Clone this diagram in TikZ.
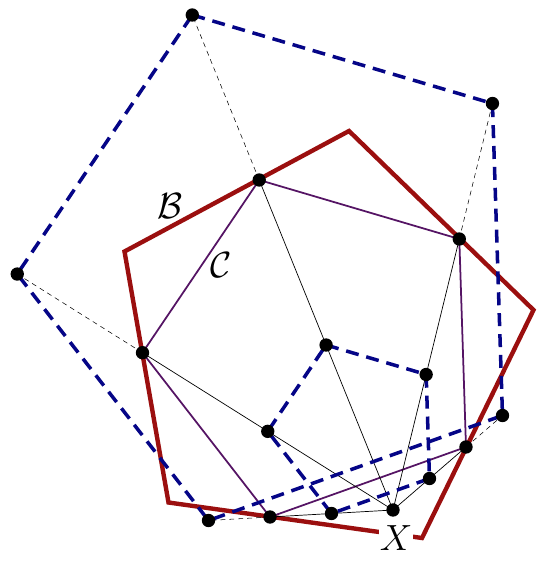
\documentclass[tikz,border=0pt]{standalone}
\usetikzlibrary{calc}
\begin{document}
\begin{tikzpicture}[x=0.02cm,y=-0.02cm]

% Colors
\definecolor{bred}{RGB}{155,15,15}     % pentagon B
\definecolor{cpurple}{RGB}{85,20,100}  % pentagon C
\definecolor{dblue}{RGB}{5,5,135}      % dashed pentagons

\useasboundingbox (0,0) rectangle (544,561);

% === Points ===
\coordinate (X) at (393,510);

\coordinate (B1) at (124.5,251.5);
\coordinate (B2) at (349,131);
\coordinate (B3) at (533.5,310);
\coordinate (B4) at (422,538);
\coordinate (B5) at (168.5,502.5);

\coordinate (C1) at (259.2,180);
\coordinate (C2) at (459.3,239);
\coordinate (C3) at (466,447);
\coordinate (C4) at (270,517);
\coordinate (C5) at (142.5,352.7);

\foreach \i in {1,...,5} {
  \coordinate (Q\i) at ($(X)!0.5!(C\i)$);
  \coordinate (P\i) at ($(X)!1.5!(C\i)$);
}

% === Pentagon B ===
\draw[bred, line width=2.5pt, line join=miter] (B1) -- (B2) -- (B3) -- (B4) -- (B5) -- cycle;

% === Pentagon C ===
\draw[cpurple, line width=1pt] (C1) -- (C2) -- (C3) -- (C4) -- (C5) -- cycle;

% === Rays from X ===
\foreach \i in {1,...,5} {
  \draw[black, line width=0.4pt] (X) -- (C\i);
  \draw[black, line width=0.3pt, dash pattern=on 2.8pt off 2.3pt] (C\i) -- (P\i);
}

% === Dashed pentagons ===
\draw[dblue, line width=2pt, dash pattern=on 7.4pt off 4.5pt] (P1) -- (P2) -- (P3) -- (P4) -- (P5) -- cycle;
\draw[dblue, line width=2pt, dash pattern=on 7.4pt off 4.5pt] (Q1) -- (Q2) -- (Q3) -- (Q4) -- (Q5) -- cycle;

% === Dots ===
\foreach \p in {X,C1,C2,C3,C4,C5,Q1,Q2,Q3,Q4,Q5,P1,P2,P3,P4,P5}
  \fill[black] (\p) circle (3.8pt);

% === Labels ===
\node[font=\huge] (labB) at (170,206) {$\mathcal{B}$};
\node[font=\huge] (labC) at (221,265) {$\mathcal{C}$};
\node[font=\huge, fill=white, inner sep=0.3pt] (labX) at (396,538) {$X$};

\end{tikzpicture}
\end{document}
